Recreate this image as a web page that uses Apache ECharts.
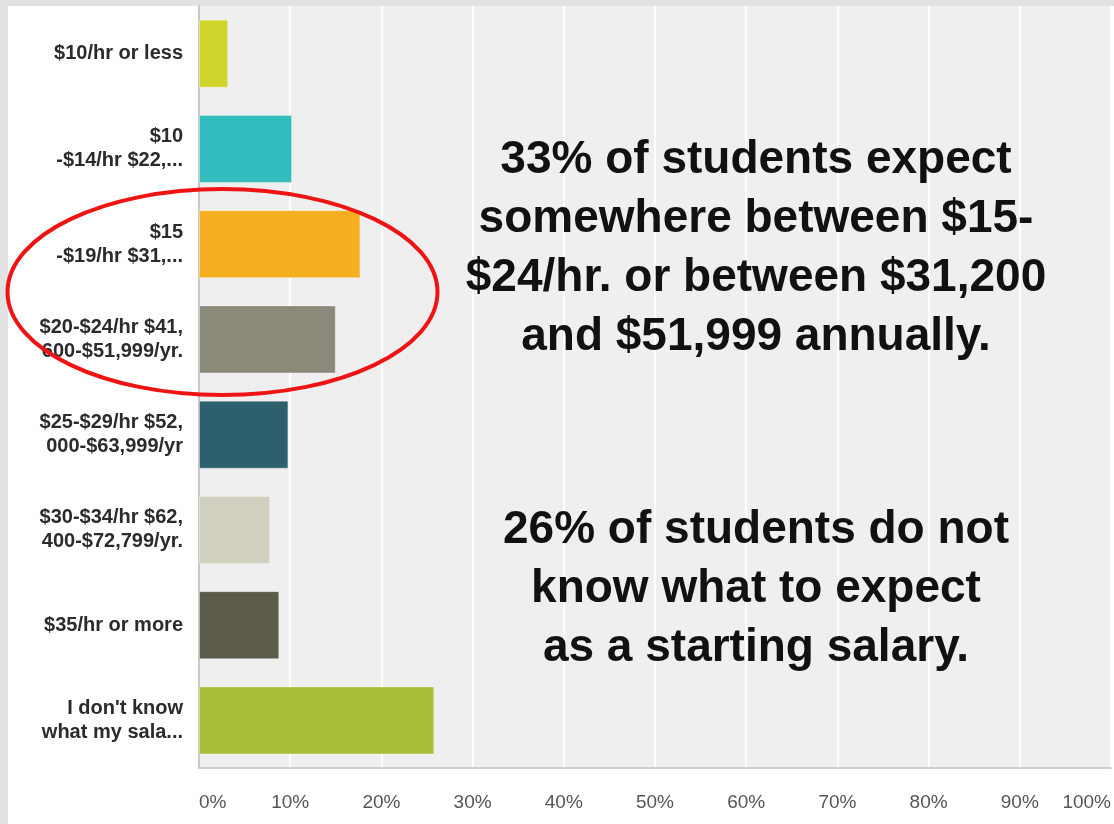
<!DOCTYPE html>
<html>
<head>
<meta charset="utf-8">
<script src="https://cdn.jsdelivr.net/npm/echarts@6/dist/echarts.min.js"></script>
<style>
  html, body { margin: 0; padding: 0; background: #e2e2e2; }
  #frame { position: absolute; left: 8px; top: 6px; width: 1106px; height: 818px; background: #ffffff; }
  #chart { position: absolute; left: 0; top: 0; width: 1114px; height: 824px; }
</style>
</head>
<body>
<div id="frame"></div>
<div id="chart"></div>
<script>
// ---- data ----
const categories = [
  "$10/hr or less",
  "$10\n-$14/hr $22,...",
  "$15\n-$19/hr $31,...",
  "$20-$24/hr $41,\n600-$51,999/yr.",
  "$25-$29/hr $52,\n000-$63,999/yr",
  "$30-$34/hr $62,\n400-$72,799/yr.",
  "$35/hr or more",
  "I don't know\nwhat my sala..."
];
const percentValues = [3.2, 10.2, 17.7, 15.0, 9.8, 7.8, 8.8, 25.8];
const barColors = ["#d1d52b", "#33bcbe", "#f6af20", "#8b8a7a", "#2e5f6c", "#d0cfc0", "#5c5a4b", "#a9bd38"];
const noteLines1 = ["33% of students expect", "somewhere between $15-", "$24/hr. or between $31,200", "and $51,999 annually."];
const noteLines2 = ["26% of students do not", "know what to expect", "as a starting salary."];

const chart = echarts.init(document.getElementById('chart'), null, { renderer: 'canvas' });

const noteFont = 'bold 46px "Liberation Sans", Arial, sans-serif';

const option = {
  backgroundColor: 'transparent',
  animation: false,
  grid: {
    left: 199, top: 6, width: 912, height: 762,
    show: true, backgroundColor: '#efefef', borderWidth: 0,
    containLabel: false
  },
  xAxis: {
    type: 'value', min: 0, max: 100, interval: 10,
    axisLine: { show: true, lineStyle: { color: '#cfcfcf', width: 2 } },
    axisTick: { show: false },
    splitLine: { show: true, lineStyle: { color: '#ffffff', width: 2 } },
    axisLabel: {
      formatter: '{value}%', color: '#555555', fontSize: 19,
      fontFamily: 'Liberation Sans, Arial, sans-serif',
      margin: 25, alignMinLabel: 'left', alignMaxLabel: 'right'
    }
  },
  yAxis: {
    type: 'category', data: categories, inverse: true,
    axisLine: { show: true, lineStyle: { color: '#c8c8c8', width: 2 } },
    axisTick: { show: false },
    axisLabel: {
      color: '#2b2b2b', fontSize: 20, fontWeight: 'bold', lineHeight: 24,
      fontFamily: 'Liberation Sans, Arial, sans-serif', margin: 16, align: 'right'
    }
  },
  series: [{
    type: 'bar',
    barWidth: 68,
    data: percentValues.map((v, i) => ({
      value: v,
      itemStyle: { color: barColors[i], borderColor: 'rgba(255,255,255,0.35)', borderWidth: 1 }
    }))
  }],
  graphic: [
    {
      type: 'text', x: 756, y: 248.5, z: 50,
      style: {
        text: noteLines1.join('\n'),
        align: 'center', verticalAlign: 'middle',
        font: noteFont, lineHeight: 59, fill: '#111111'
      }
    },
    {
      type: 'text', x: 756, y: 589, z: 50,
      style: {
        text: noteLines2.join('\n'),
        align: 'center', verticalAlign: 'middle',
        font: noteFont, lineHeight: 59, fill: '#111111'
      }
    },
    {
      type: 'ellipse', z: 60,
      shape: { cx: 222.5, cy: 292, rx: 215, ry: 103 },
      style: { fill: 'none', stroke: '#ee1414', lineWidth: 4 }
    }
  ]
};
chart.setOption(option);
</script>
</body>
</html>
